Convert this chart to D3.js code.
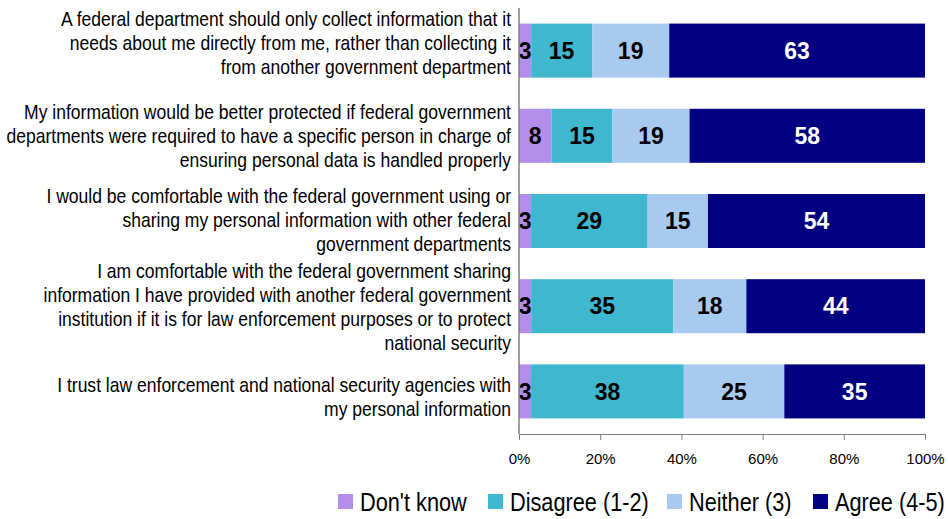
<!DOCTYPE html>
<html>
<head>
<meta charset="utf-8">
<script src="https://cdn.jsdelivr.net/npm/d3@7"></script>
<style>
  html, body { margin: 0; padding: 0; background: #fff; }
  svg { display: block; }
  text { font-family: "Liberation Sans", Arial, sans-serif; }
</style>
</head>
<body>
<svg id="chart" width="948" height="519"></svg>
<script>
// Survey statements, each split over the lines it is printed on
const statements = [
  ["A federal department should only collect information that it",
   "needs about me directly from me, rather than collecting it",
   "from another government department"],
  ["My information would be better protected if federal government",
   "departments were required to have a specific person in charge of",
   "ensuring personal data is handled properly"],
  ["I would be comfortable with the federal government using or",
   "sharing my personal information with other federal",
   "government departments"],
  ["I am comfortable with the federal government sharing",
   "information I have provided with another federal government",
   "institution if it is for law enforcement purposes or to protect",
   "national security"],
  ["I trust law enforcement and national security agencies with",
   "my personal information"]
];

const seriesNames = ["Don't know", "Disagree (1-2)", "Neither (3)", "Agree (4-5)"];

// Percentages per statement, in series order
const dontKnow = [3, 8, 3, 3, 3];
const disagree = [15, 15, 29, 35, 38];
const neither  = [19, 19, 15, 18, 25];
const agree    = [63, 58, 54, 44, 35];

const tickValues = [0, 0.2, 0.4, 0.6, 0.8, 1.0];

// Styling
const seriesColors = ["#B28DEA", "#3FB8CF", "#A9CAEF", "#000080"];
const labelColors = ["#000", "#000", "#000", "#fff"];
const labelShift = [-8, 0, -2, 0, 5];       // vertical nudge of each statement block
const legendX = [338, 488, 667, 813];        // legend swatch positions

const rows = statements.map((s, i) => ({
  idx: i,
  lines: s,
  values: [dontKnow[i], disagree[i], neither[i], agree[i]]
}));

const svg = d3.select("#chart");
const margin = { left: 519, right: 23, top: 8, bottom: 85 };
const W = 948, H = 519;

const x = d3.scaleLinear().domain([0, 1]).range([margin.left, W - margin.right]);
const y = d3.scaleBand().domain(rows.map(r => r.idx))
  .range([margin.top, H - margin.bottom]).paddingInner(0.366).paddingOuter(0.183);

// Each bar fills 100%, so segments are shares of the row total
const segs = [];
rows.forEach(r => {
  const total = d3.sum(r.values);
  let acc = 0;
  r.values.forEach((v, k) => {
    segs.push({ row: r.idx, k, v, x0: acc / total, x1: (acc + v) / total });
    acc += v;
  });
});

svg.append("g").selectAll("rect").data(segs).join("rect")
  .attr("x", d => x(d.x0))
  .attr("width", d => x(d.x1) - x(d.x0))
  .attr("y", d => y(d.row))
  .attr("height", y.bandwidth())
  .attr("fill", d => seriesColors[d.k]);

svg.append("g").selectAll("text").data(segs).join("text")
  .attr("x", d => (x(d.x0) + x(d.x1)) / 2)
  .attr("y", d => y(d.row) + y.bandwidth() / 2)
  .attr("dy", "0.36em")
  .attr("text-anchor", "middle")
  .attr("font-weight", "bold")
  .attr("font-size", 23)
  .attr("fill", d => labelColors[d.k])
  .text(d => d.v);

// x axis
const xAxis = d3.axisBottom(x).tickValues(tickValues).tickFormat(d3.format(".0%"))
  .tickSize(6).tickPadding(13);
const gx = svg.append("g").attr("transform", `translate(0,${H - margin.bottom})`).call(xAxis);
gx.select(".domain").attr("stroke", "#808080");
gx.selectAll(".tick line").attr("stroke", "#808080");
gx.selectAll(".tick text")
  .attr("font-family", "'Liberation Sans', Arial, sans-serif")
  .attr("font-size", 15).attr("fill", "#000");

// y axis line
svg.append("line")
  .attr("x1", x(0)).attr("x2", x(0))
  .attr("y1", margin.top).attr("y2", H - margin.bottom)
  .attr("stroke", "#808080").attr("stroke-width", 1.5);

// Condensed look: horizontally squeezed sans text
const squeeze = 0.835;

// Statement labels, right-aligned against the axis
const lineH = 24;
const cat = svg.append("g");
rows.forEach(r => {
  const cy = y(r.idx) + y.bandwidth() / 2 + labelShift[r.idx];
  const n = r.lines.length;
  const t = cat.append("text")
    .attr("transform", `translate(511,0) scale(${squeeze},1)`)
    .attr("text-anchor", "end")
    .attr("font-size", 21)
    .attr("fill", "#000");
  r.lines.forEach((ln, j) => {
    t.append("tspan")
      .attr("x", 0)
      .attr("y", cy + (j - (n - 1) / 2) * lineH)
      .attr("dy", "0.36em")
      .text(ln);
  });
});

// Legend
const lg = svg.append("g");
seriesNames.forEach((name, k) => {
  lg.append("rect").attr("x", legendX[k]).attr("y", 494)
    .attr("width", 15).attr("height", 15).attr("fill", seriesColors[k]);
  lg.append("text")
    .attr("transform", `translate(${legendX[k] + 22},0) scale(0.82,1)`)
    .attr("x", 0).attr("y", 501)
    .attr("dy", "0.36em").attr("font-size", 26.5).attr("fill", "#000")
    .text(name);
});
</script>
</body>
</html>
